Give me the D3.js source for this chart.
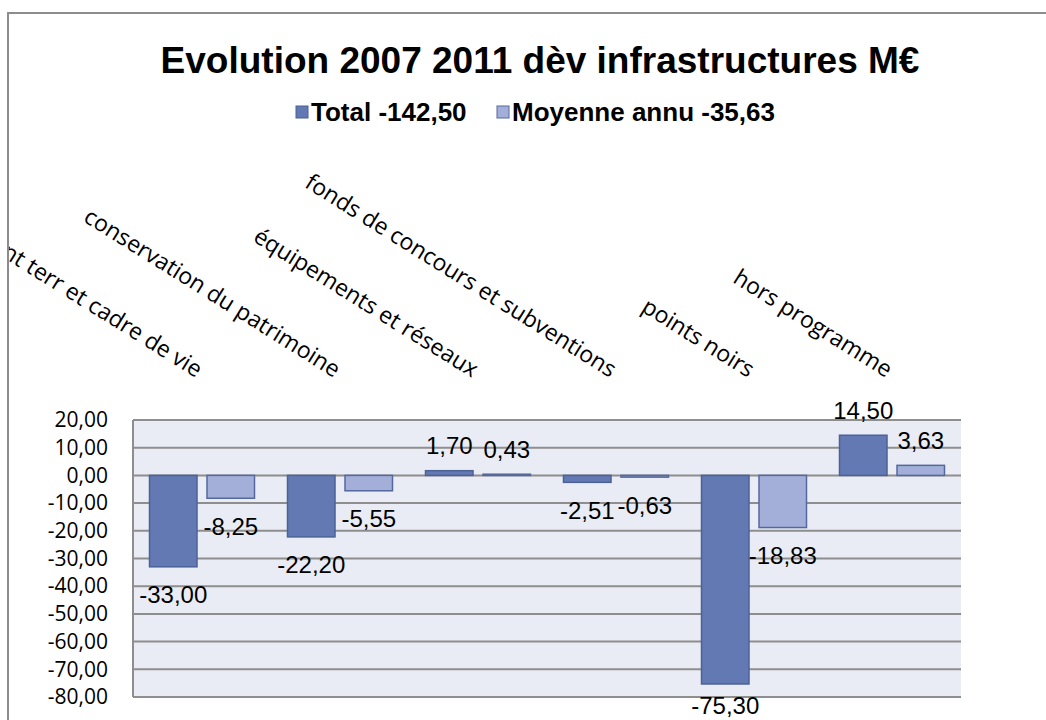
<!DOCTYPE html>
<html>
<head>
<meta charset="utf-8">
<script src="https://cdn.jsdelivr.net/npm/d3@7"></script>
<style>
  body { margin: 0; background: #fff; }
  svg { display: block; }
</style>
</head>
<body>
<svg id="chart" width="1046" height="720"></svg>
<script>
// Data
const categories = [
  'aménagement terr et cadre de vie',
  'conservation du patrimoine',
  'équipements et réseaux',
  'fonds de concours et subventions',
  'points noirs',
  'hors programme'
];
const seriesNames = ['Total -142,50', 'Moyenne annu -35,63'];
const totalValues = [-33.00, -22.20, 1.70, -2.51, -75.30, 14.50];
const moyenneValues = [-8.25, -5.55, 0.43, -0.63, -18.83, 3.63];
const yTicks = [20, 10, 0, -10, -20, -30, -40, -50, -60, -70, -80];

const fills = ['#6379b3', '#a3afd9'];
const strokes = ['#4c6196', '#55689e'];

const svg = d3.select('#chart');
const W = 1046, H = 720;

svg.append('rect').attr('width', W).attr('height', H).attr('fill', '#fff');

// Clip to the chart frame
svg.append('defs').append('clipPath').attr('id', 'frame')
  .append('rect').attr('x', 9).attr('y', 14).attr('width', W).attr('height', H);

const root = svg.append('g').attr('clip-path', 'url(#frame)');

// Frame border (right and bottom fall outside the picture)
svg.append('rect')
  .attr('x', 8).attr('y', 13).attr('width', W + 20).attr('height', H + 20)
  .attr('fill', 'none').attr('stroke', '#8c8c8c').attr('stroke-width', 2);

// Title
root.append('text')
  .attr('x', 540).attr('y', 60)
  .attr('text-anchor', 'middle').attr('dominant-baseline', 'central')
  .attr('font-family', 'Liberation Sans, Arial, sans-serif')
  .attr('font-weight', 'bold').attr('font-size', 37)
  .text('Evolution 2007 2011 dèv infrastructures M€');

// Legend
const legend = root.append('g').attr('transform', 'translate(296,112)');
const legendX = [0, 201];
seriesNames.forEach((name, i) => {
  const g = legend.append('g').attr('transform', `translate(${legendX[i]},0)`);
  g.append('rect')
    .attr('x', 0).attr('y', -6).attr('width', 12).attr('height', 12)
    .attr('fill', fills[i]).attr('stroke', strokes[i]).attr('stroke-width', 1);
  g.append('text')
    .attr('x', 15).attr('y', 0).attr('dominant-baseline', 'central')
    .attr('font-family', 'Liberation Sans, Arial, sans-serif')
    .attr('font-weight', 'bold').attr('font-size', 26)
    .text(name);
});

// Plot area
const plot = { left: 133, right: 961, top: 420, bottom: 697 };

const x0 = d3.scaleBand().domain(categories).range([plot.left, plot.right]);
const x1 = d3.scaleBand().domain([0, 1]).range([0, x0.bandwidth()])
  .paddingInner(0.174).paddingOuter(0.287);
const y = d3.scaleLinear().domain([-80, 20]).range([plot.bottom, plot.top]);

root.append('rect')
  .attr('x', plot.left).attr('y', plot.top)
  .attr('width', plot.right - plot.left).attr('height', plot.bottom - plot.top)
  .attr('fill', '#e9ecf4');

// Gridlines
root.append('g')
  .selectAll('line')
  .data(yTicks)
  .join('line')
  .attr('x1', plot.left).attr('x2', plot.right)
  .attr('y1', d => y(d)).attr('y2', d => y(d))
  .attr('stroke', '#8e8e8e').attr('stroke-width', 2);

// Left axis line
root.append('line')
  .attr('x1', plot.left).attr('x2', plot.left)
  .attr('y1', plot.top).attr('y2', plot.bottom)
  .attr('stroke', '#8e8e8e').attr('stroke-width', 2);

// Y tick labels
const fmt = v => v.toFixed(2).replace('.', ',');
const yAxis = d3.axisLeft(y).tickValues(yTicks).tickSize(0).tickPadding(25)
  .tickFormat(fmt);
const yAxisG = root.append('g').attr('transform', `translate(${plot.left},0)`).call(yAxis);
yAxisG.select('.domain').remove();
yAxisG.selectAll('text')
  .attr('font-family', 'Open Sans, sans-serif')
  .attr('font-size', 21)
  .attr('fill', '#000');

// Bars
const rows = categories.map((c, i) => ({ cat: c, vals: [totalValues[i], moyenneValues[i]] }));

const groups = root.append('g')
  .selectAll('g')
  .data(rows)
  .join('g')
  .attr('transform', d => `translate(${x0(d.cat)},0)`);

groups.selectAll('rect')
  .data(d => d.vals.map((v, s) => ({ v, s })))
  .join('rect')
  .attr('x', d => x1(d.s))
  .attr('width', x1.bandwidth())
  .attr('y', d => y(Math.max(0, d.v)))
  .attr('height', d => Math.abs(y(d.v) - y(0)))
  .attr('fill', d => fills[d.s])
  .attr('stroke', d => strokes[d.s])
  .attr('stroke-width', 1.5);

// Data labels (kept inside the frame at the bottom)
groups.selectAll('text.val')
  .data(d => d.vals.map((v, s) => ({ v, s })))
  .join('text')
  .attr('class', 'val')
  .attr('x', d => x1(d.s) + x1.bandwidth() / 2)
  .attr('y', d => d.v >= 0 ? y(d.v) - 25 : Math.min(y(d.v) + 28, 705))
  .attr('text-anchor', 'middle').attr('dominant-baseline', 'central')
  .attr('font-family', 'Liberation Sans, Arial, sans-serif')
  .attr('font-size', 24)
  .text(d => fmt(d.v));

// Rotated category labels above the plot
root.append('g')
  .selectAll('text')
  .data(categories)
  .join('text')
  .attr('text-anchor', 'end')
  .attr('transform', d => `translate(${x0(d) + x0.bandwidth() / 2 - 6},378) rotate(32)`)
  .attr('font-family', 'Open Sans, sans-serif')
  .attr('font-size', 23)
  .text(d => d);
</script>
</body>
</html>
